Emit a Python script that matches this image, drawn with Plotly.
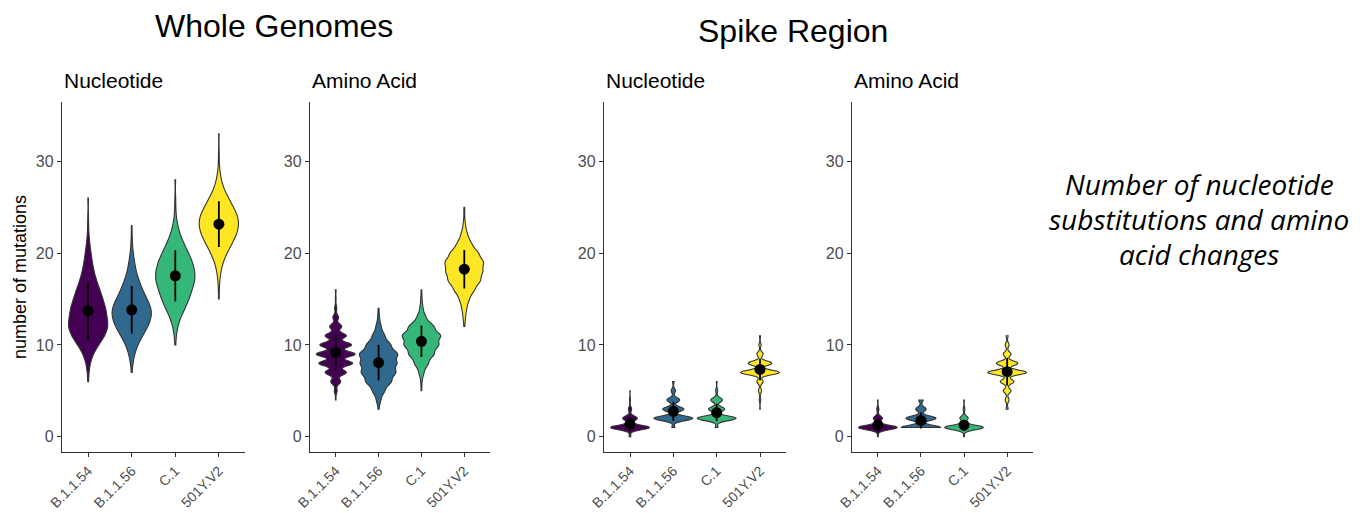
import numpy as np
import plotly.graph_objects as go

# ---------------- data ----------------
lineages = ["B.1.1.54", "B.1.1.56", "C.1", "501Y.V2"]
colors = ["#440154", "#31688E", "#35B779", "#FDE725"]

# frequency of sequences carrying k mutations, k = start, start+1, ...
# Whole genomes - nucleotide substitutions
wg_nt_start = [6, 7, 10, 15]
wg_nt_freq = [
    [1, 2, 5, 12, 25, 40, 48, 45, 42, 35, 28, 20, 14, 10, 7, 4, 2, 1, 1, 0, 1],
    [1, 3, 8, 16, 30, 45, 55, 55, 42, 30, 20, 12, 8, 4, 2, 1, 1],
    [1, 2, 5, 11, 20, 28, 34, 40, 40, 35, 27, 18, 10, 5, 2, 1, 1, 0, 1],
    [1, 1, 2, 5, 10, 20, 32, 44, 50, 48, 36, 24, 12, 6, 2, 1, 1, 0, 1],
]
# Whole genomes - amino acid changes
wg_aa_start = [4, 3, 5, 12]
wg_aa_freq = [
    [1, 4, 14, 30, 48, 55, 45, 30, 17, 8, 3, 1, 1],
    [1, 5, 14, 30, 40, 42, 45, 28, 14, 6, 2, 1],
    [1, 2, 8, 22, 40, 55, 62, 40, 14, 5, 2, 1],
    [1, 3, 6, 12, 25, 40, 45, 48, 35, 18, 8, 3, 1, 1],
]
# Spike region - nucleotide substitutions
sp_nt_start = [0, 1, 1, 3]
sp_nt_freq = [
    [5, 120, 45, 10, 3, 1],
    [4, 55, 30, 18, 6, 2],
    [4, 60, 25, 18, 3, 1],
    [1, 3, 6, 12, 75, 45, 12, 4, 2],
]
# Spike region - amino acid changes
sp_aa_start = [0, 1, 0, 3]
sp_aa_freq = [
    [3, 150, 35, 8, 2],
    [45, 35, 12, 5],
    [3, 140, 30, 6, 2],
    [2, 4, 8, 14, 40, 22, 8, 4, 2],
]

y_ticks = [0, 10, 20, 30]
panel_titles = ["Nucleotide", "Amino Acid", "Nucleotide", "Amino Acid"]
group_titles = ["Whole Genomes", "Spike Region"]
y_title = "number of mutations"
side_text = ["Number of nucleotide", "substitutions and amino", "acid changes"]

# ---------------- layout constants ----------------
W, H = 1360, 513
FONT = "Liberation Sans, Arial, Helvetica, sans-serif"
panels = [
    (wg_nt_start, wg_nt_freq, [0.6, 0.7, 0.6, 0.7], (62, 245)),
    (wg_aa_start, wg_aa_freq, [0.3, 0.45, 0.45, 0.5], (310, 490)),
    (sp_nt_start, sp_nt_freq, [0.25] * 4, (604, 786)),
    (sp_aa_start, sp_aa_freq, [0.25] * 4, (852, 1033)),
]
ydom = [(H - 452) / H, (H - 101.7) / H]


def expand(start, freq):
    vals = []
    for i, f in enumerate(freq):
        vals += [start + i] * f
    return np.array(vals, dtype=float)


fig = go.Figure()
layout = {}
for p, (starts, freqs, bws, (x0, x1)) in enumerate(panels):
    sfx = "" if p == 0 else str(p + 1)
    xa, ya = "x" + sfx, "y" + sfx
    means, sds = [], []
    for i, lin in enumerate(lineages):
        vals = expand(starts[i], freqs[i])
        means.append(vals.mean())
        sds.append(vals.std(ddof=1))
        fig.add_trace(go.Violin(
            x=[lin] * len(vals), y=vals, xaxis=xa, yaxis=ya,
            fillcolor=colors[i], line=dict(color="#333333", width=1.1),
            width=0.9, scalegroup=f"panel{p}", scalemode="width",
            spanmode="hard", bandwidth=bws[i], points=False,
            box_visible=False, meanline_visible=False, opacity=1,
            showlegend=False, hoveron="violins", name=lin,
        ))
    fig.add_trace(go.Scatter(
        x=lineages, y=means, xaxis=xa, yaxis=ya, mode="markers",
        marker=dict(color="black", size=11),
        error_y=dict(type="data", array=sds, visible=True, color="black",
                     thickness=1.8, width=0),
        showlegend=False,
    ))
    layout["xaxis" + sfx] = dict(
        domain=[x0 / W, x1 / W], anchor=ya, type="category",
        categoryorder="array", categoryarray=lineages, range=[-0.6, 3.6],
        showline=True, linecolor="#333333", linewidth=1.3, ticks="outside",
        ticklen=4, tickcolor="#333333", tickangle=-45, showgrid=False,
        zeroline=False, automargin=False,
        tickfont=dict(family=FONT, size=14, color="#4D4D4D"),
    )
    layout["yaxis" + sfx] = dict(
        domain=ydom, anchor=xa, range=[-1.67, 36.5], tickvals=y_ticks,
        showline=True, linecolor="#333333", linewidth=1.3, ticks="outside",
        ticklen=4, tickcolor="#333333", showgrid=False, zeroline=False,
        automargin=False,
        tickfont=dict(family=FONT, size=16, color="#4D4D4D"),
    )

annotations = []
for p, (x0, _) in zip(range(4), [pp[3] for pp in panels]):
    annotations.append(dict(
        text=panel_titles[p], x=x0 / W, y=1 - 80 / H, xref="paper",
        yref="paper", xanchor="left", yanchor="middle", showarrow=False,
        font=dict(family=FONT, size=21, color="black"),
    ))
for t, cx, cy in zip(group_titles, [274, 793], [26, 31]):
    annotations.append(dict(
        text=t, x=cx / W, y=1 - cy / H, xref="paper", yref="paper",
        xanchor="center", yanchor="middle", showarrow=False,
        font=dict(family=FONT, size=32, color="black"),
    ))
annotations.append(dict(
    text=y_title, x=20 / W, y=1 - 277 / H, xref="paper", yref="paper",
    xanchor="center", yanchor="middle", textangle=-90, showarrow=False,
    font=dict(family=FONT, size=18, color="black"),
))
for t, cy in zip(side_text, [184, 219, 254]):
    annotations.append(dict(
        text=t, x=1199 / W, y=1 - cy / H, xref="paper", yref="paper",
        xanchor="center", yanchor="middle", showarrow=False,
        font=dict(family="Open Sans, Lato, sans-serif", size=28,
                  color="black", style="italic"),
    ))

fig.update_layout(
    width=W, height=H, margin=dict(l=0, r=0, t=0, b=0, autoexpand=False),
    paper_bgcolor="white", plot_bgcolor="white", violinmode="overlay",
    annotations=annotations, **layout,
)
fig.write_html(
    "out.html",
    config={"displayModeBar": False},
    post_script="document.body.style.margin='0px';",
)
